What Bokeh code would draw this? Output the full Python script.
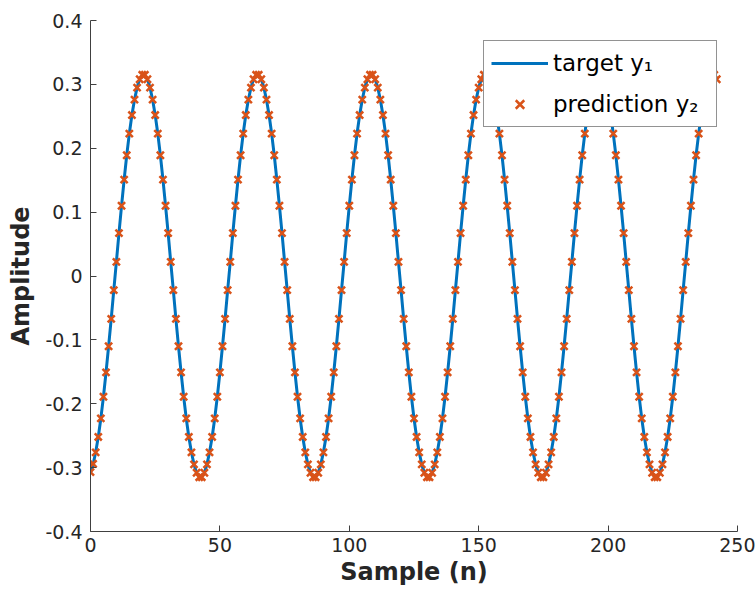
from bokeh.plotting import figure
from bokeh.models import Range1d, Legend, LegendItem, FixedTicker
from bokeh.embed import file_html
from bokeh.resources import INLINE

# sample index
samples = list(range(243))

# target y1
target = [
    -0.308, -0.295, -0.276, -0.252, -0.223, -0.189, -0.151, -0.110, -0.067, -0.022, 0.022,
    0.067, 0.110, 0.151, 0.189, 0.223, 0.252, 0.276, 0.295, 0.308, 0.314, 0.314,
    0.308, 0.295, 0.276, 0.252, 0.223, 0.189, 0.151, 0.110, 0.067, 0.022, -0.022,
    -0.067, -0.110, -0.151, -0.189, -0.223, -0.252, -0.276, -0.295, -0.308, -0.314, -0.314,
    -0.308, -0.295, -0.276, -0.252, -0.223, -0.189, -0.151, -0.110, -0.067, -0.022, 0.022,
    0.067, 0.110, 0.151, 0.189, 0.223, 0.252, 0.276, 0.295, 0.308, 0.314, 0.314,
    0.308, 0.295, 0.276, 0.252, 0.223, 0.189, 0.151, 0.110, 0.067, 0.022, -0.022,
    -0.067, -0.110, -0.151, -0.189, -0.223, -0.252, -0.276, -0.295, -0.308, -0.314, -0.314,
    -0.308, -0.295, -0.276, -0.252, -0.223, -0.189, -0.151, -0.110, -0.067, -0.022, 0.022,
    0.067, 0.110, 0.151, 0.189, 0.223, 0.252, 0.276, 0.295, 0.308, 0.314, 0.314,
    0.308, 0.295, 0.276, 0.252, 0.223, 0.189, 0.151, 0.110, 0.067, 0.022, -0.022,
    -0.067, -0.110, -0.151, -0.189, -0.223, -0.252, -0.276, -0.295, -0.308, -0.314, -0.314,
    -0.308, -0.295, -0.276, -0.252, -0.223, -0.189, -0.151, -0.110, -0.067, -0.022, 0.022,
    0.067, 0.110, 0.151, 0.189, 0.223, 0.252, 0.276, 0.295, 0.308, 0.314, 0.314,
    0.308, 0.295, 0.276, 0.252, 0.223, 0.189, 0.151, 0.110, 0.067, 0.022, -0.022,
    -0.067, -0.110, -0.151, -0.189, -0.223, -0.252, -0.276, -0.295, -0.308, -0.314, -0.314,
    -0.308, -0.295, -0.276, -0.252, -0.223, -0.189, -0.151, -0.110, -0.067, -0.022, 0.022,
    0.067, 0.110, 0.151, 0.189, 0.223, 0.252, 0.276, 0.295, 0.308, 0.314, 0.314,
    0.308, 0.295, 0.276, 0.252, 0.223, 0.189, 0.151, 0.110, 0.067, 0.022, -0.022,
    -0.067, -0.110, -0.151, -0.189, -0.223, -0.252, -0.276, -0.295, -0.308, -0.314, -0.314,
    -0.308, -0.295, -0.276, -0.252, -0.223, -0.189, -0.151, -0.110, -0.067, -0.022, 0.022,
    0.067, 0.110, 0.151, 0.189, 0.223, 0.252, 0.276, 0.295, 0.308, 0.314, 0.314,
    0.308,
]

# prediction y2 (sits on the target curve)
prediction = [
    -0.307, -0.294, -0.276, -0.252, -0.223, -0.189, -0.151, -0.110, -0.067, -0.022, 0.022,
    0.067, 0.110, 0.151, 0.189, 0.223, 0.252, 0.276, 0.295, 0.308, 0.315, 0.315,
    0.308, 0.295, 0.276, 0.252, 0.223, 0.189, 0.151, 0.110, 0.067, 0.022, -0.022,
    -0.067, -0.110, -0.151, -0.189, -0.223, -0.252, -0.276, -0.295, -0.308, -0.315, -0.315,
    -0.308, -0.295, -0.276, -0.252, -0.223, -0.189, -0.151, -0.110, -0.067, -0.022, 0.022,
    0.067, 0.110, 0.151, 0.189, 0.223, 0.252, 0.276, 0.295, 0.308, 0.315, 0.315,
    0.308, 0.295, 0.276, 0.252, 0.223, 0.189, 0.151, 0.110, 0.067, 0.022, -0.022,
    -0.067, -0.110, -0.151, -0.189, -0.223, -0.252, -0.276, -0.295, -0.308, -0.315, -0.315,
    -0.308, -0.295, -0.276, -0.252, -0.223, -0.189, -0.151, -0.110, -0.067, -0.022, 0.022,
    0.067, 0.110, 0.151, 0.189, 0.223, 0.252, 0.276, 0.295, 0.308, 0.315, 0.315,
    0.308, 0.295, 0.276, 0.252, 0.223, 0.189, 0.151, 0.110, 0.067, 0.022, -0.022,
    -0.067, -0.110, -0.151, -0.189, -0.223, -0.252, -0.276, -0.295, -0.308, -0.315, -0.315,
    -0.308, -0.295, -0.276, -0.252, -0.223, -0.189, -0.151, -0.110, -0.067, -0.022, 0.022,
    0.067, 0.110, 0.151, 0.189, 0.223, 0.252, 0.276, 0.295, 0.308, 0.315, 0.315,
    0.308, 0.295, 0.276, 0.252, 0.223, 0.189, 0.151, 0.110, 0.067, 0.022, -0.022,
    -0.067, -0.110, -0.151, -0.189, -0.223, -0.252, -0.276, -0.295, -0.308, -0.315, -0.315,
    -0.308, -0.295, -0.276, -0.252, -0.223, -0.189, -0.151, -0.110, -0.067, -0.022, 0.022,
    0.067, 0.110, 0.151, 0.189, 0.223, 0.252, 0.276, 0.295, 0.308, 0.315, 0.315,
    0.308, 0.295, 0.276, 0.252, 0.223, 0.189, 0.151, 0.110, 0.067, 0.022, -0.022,
    -0.067, -0.110, -0.151, -0.189, -0.223, -0.252, -0.276, -0.295, -0.308, -0.315, -0.315,
    -0.308, -0.295, -0.276, -0.252, -0.223, -0.189, -0.151, -0.110, -0.067, -0.022, 0.022,
    0.067, 0.110, 0.151, 0.189, 0.223, 0.252, 0.276, 0.295, 0.308, 0.315, 0.315,
    0.308,
]

x_ticks = [0, 50, 100, 150, 200, 250]
y_ticks = [-0.4, -0.3, -0.2, -0.1, 0, 0.1, 0.2, 0.3, 0.4]
y_tick_labels = {-0.4: "-0.4", -0.3: "-0.3", -0.2: "-0.2", -0.1: "-0.1", 0: "0",
                 0.1: "0.1", 0.2: "0.2", 0.3: "0.3", 0.4: "0.4"}
legend_labels = ["target y\u2081", "prediction y\u2082"]

FONT = "DejaVu Sans"
TXT = "#262626"

p = figure(width=755, height=593, x_range=Range1d(0, 250), y_range=Range1d(-0.4, 0.4),
           output_backend="svg", toolbar_location=None,
           min_border_left=90, min_border_right=18, min_border_top=20, min_border_bottom=62)
p.outline_line_color = None
p.xgrid.visible = False
p.ygrid.visible = False
p.background_fill_color = "white"
p.border_fill_color = "white"

line_r = p.line(samples, target, line_color="#0072BD", line_width=3)
sc_r = p.scatter(samples, prediction, marker="x", size=10, line_color="#D95319", line_width=2.5)

for ax in (p.xaxis[0], p.yaxis[0]):
    ax.major_tick_in = 6
    ax.major_tick_out = 0
    ax.minor_tick_line_color = None
    ax.axis_line_color = "#404040"
    ax.major_tick_line_color = "#404040"
    ax.major_label_text_font = FONT
    ax.major_label_text_font_size = "19px"
    ax.major_label_text_color = TXT
    ax.axis_label_text_font = FONT
    ax.axis_label_text_font_size = "24px"
    ax.axis_label_text_font_style = "bold"
    ax.axis_label_text_color = TXT

p.xaxis.ticker = FixedTicker(ticks=x_ticks)
p.yaxis.ticker = FixedTicker(ticks=y_ticks)
p.yaxis.major_label_overrides = y_tick_labels
p.xaxis.axis_label = "Sample (n)"
p.yaxis.axis_label = "Amplitude"
p.xaxis.major_label_standoff = 6
p.yaxis.major_label_standoff = 8
p.xaxis.axis_label_standoff = 3
p.yaxis.axis_label_standoff = 7

legend = Legend(items=[LegendItem(label=legend_labels[0], renderers=[line_r]),
                       LegendItem(label=legend_labels[1], renderers=[sc_r])],
                location=(393, 404))
legend.label_text_font = FONT
legend.label_text_font_size = "23px"
legend.label_text_color = "#000000"
legend.glyph_width = 57
legend.glyph_height = 30
legend.label_height = 30
legend.label_width = 156
legend.spacing = 11
legend.padding = 7
legend.margin = 0
legend.label_standoff = 5
legend.border_line_color = "#262626"
legend.border_line_width = 1
legend.background_fill_alpha = 1.0
p.add_layout(legend)

open("out.html", "w").write(file_html(p, INLINE))
